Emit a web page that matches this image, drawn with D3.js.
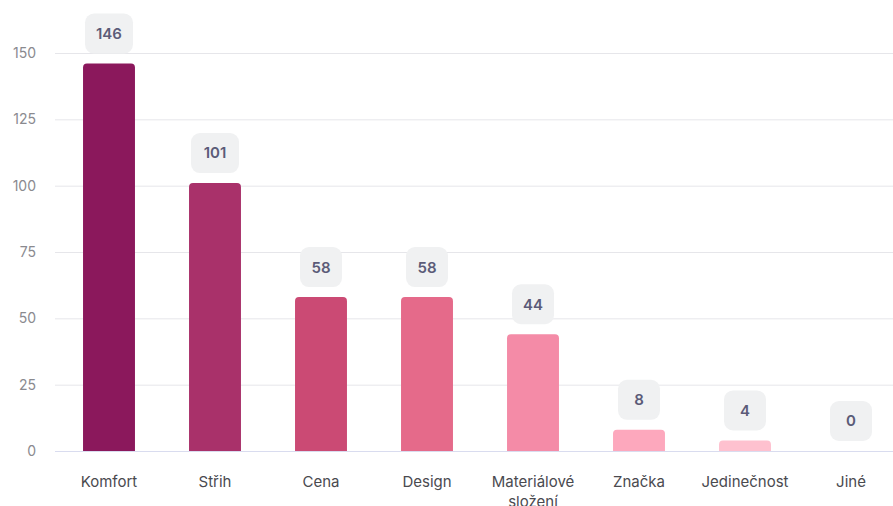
<!DOCTYPE html>
<html><head><meta charset="utf-8">
<script src="https://cdn.jsdelivr.net/npm/d3@7"></script>
<style>
html,body{margin:0;padding:0;background:#fff;}
svg{display:block;font-family:"Inter","Noto Sans",sans-serif;}
</style></head>
<body>
<svg id="chart" width="893" height="506"></svg>
<script>
const categories = ["Komfort","Střih","Cena","Design","Materiálové složení","Značka","Jedinečnost","Jiné"];
const values = [146,101,58,58,44,8,4,0];
const colors = ["#8b185c","#a9316a","#cb4a74","#e56a8a","#f48ba7","#fda8bd","#fec1cf","#ffd6e0"];
const yTicks = [0,25,50,75,100,125,150];

const svg = d3.select("#chart");
const W = 893, H = 506;
const x = d3.scaleBand().domain(categories).range([56, 904]).paddingInner(0.51).paddingOuter(0.255);
const y = d3.scaleLinear().domain([0,150]).range([451, 53]);

// grid
svg.append("g").selectAll("line").data(yTicks.filter(d=>d>0)).join("line")
  .attr("x1",55).attr("x2",W).attr("y1",d=>y(d)+0.5).attr("y2",d=>y(d)+0.5)
  .attr("stroke","#e6e6ea").attr("stroke-width",1);

// y axis
const yAxis = d3.axisLeft(y).tickValues(yTicks).tickSize(0).tickPadding(0);
const gy = svg.append("g").attr("transform","translate(36,0)").call(yAxis);
gy.select(".domain").remove();
gy.selectAll("text").attr("fill","#8a8a8f").style("font-size","14px").style("font-family","Inter").attr("text-anchor","end");

// bars with rounded top
const r = 4;
function barPath(x0,w,yt,yb){
  const h = yb-yt;
  if(h<=0) return "";
  const rr = Math.min(r,h);
  return `M${x0},${yb}V${yt+rr}Q${x0},${yt} ${x0+rr},${yt}H${x0+w-rr}Q${x0+w},${yt} ${x0+w},${yt+rr}V${yb}Z`;
}
svg.append("g").selectAll("path").data(values).join("path")
  .attr("d",(d,i)=>barPath(x(categories[i]),x.bandwidth(),y(d),y(0)))
  .attr("fill",(d,i)=>colors[i]);

// x axis line
svg.append("line").attr("x1",55).attr("x2",W).attr("y1",y(0)+0.5).attr("y2",y(0)+0.5)
  .attr("stroke","#d9dcef").attr("stroke-width",1.2);

// x labels
const xAxis = d3.axisBottom(x).tickSize(0).tickPadding(0);
const gx = svg.append("g").attr("transform",`translate(0,${y(0)})`).call(xAxis);
gx.select(".domain").remove();
gx.selectAll("text").each(function(d){
  const t = d3.select(this);
  t.text(null).attr("fill","#4a4a4f").style("font-size","15px").style("font-family","Inter").attr("y",null).attr("dy",null);
  const words = d.split(" ");
  words.forEach((w,k)=>{
    t.append("tspan").attr("x",0).attr("y",36 + k*20).text(w);
  });
});

// value labels
const lg = svg.append("g").selectAll("g").data(values).join("g")
  .attr("transform",(d,i)=>`translate(${x(categories[i])+x.bandwidth()/2},${y(d)-10})`);
lg.each(function(d){
  const g = d3.select(this);
  const txt = String(d);
  const w = Math.max(42, txt.length*9+21);
  g.append("rect").attr("x",-w/2).attr("y",-40).attr("width",w).attr("height",40)
    .attr("rx",9).attr("fill","#f0f1f2");
  g.append("text").attr("x",0).attr("y",-20).attr("dy","0.36em").attr("text-anchor","middle")
    .attr("fill","#5b5b78").style("font-size","15px").style("font-weight","600").style("font-family","Inter").text(txt);
});
</script>
</body></html>
